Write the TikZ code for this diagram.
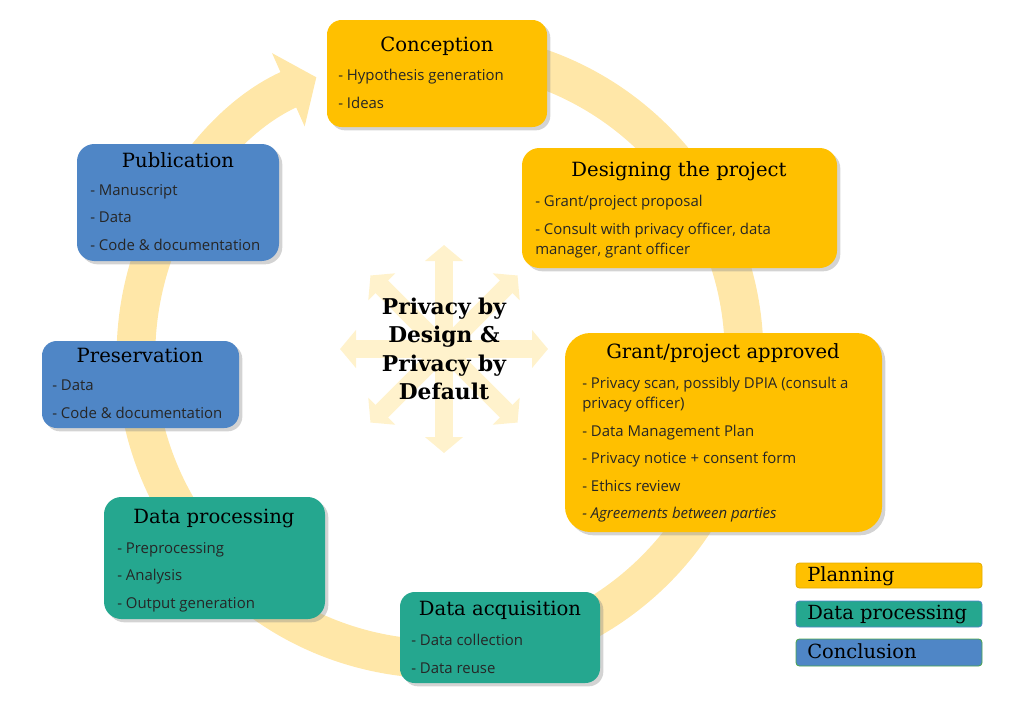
\documentclass[tikz,border=0pt]{standalone}
\usepackage{fontspec}
\setmainfont{Open Sans}
\newfontfamily\headfont{DejaVu Serif}
\usetikzlibrary{arrows.meta,shadows,fit,positioning}

\definecolor{planning}{HTML}{FFC000}
\definecolor{processing}{HTML}{25A78F}
\definecolor{conclusion}{HTML}{4F86C6}
\definecolor{ringcol}{HTML}{FFE7A8}
\definecolor{raycol}{HTML}{FFF2CC}

\tikzset{
  stage/.style={inner sep=0pt, drop shadow={shadow xshift=2.5pt, shadow yshift=-2.5pt, opacity=0.35}},
  stagetitle/.style={anchor=base, inner sep=0pt, font=\headfont\fontsize{14.7}{17}\selectfont},
  items/.style={anchor=north west, inner sep=0pt, align=left, text=black!85, font=\fontsize{11.2}{15}\selectfont, execute at begin node=\strut},
  cyclearrow/.style={line width=29pt, draw=ringcol, -{Triangle[length=23pt, width=59pt]}},
  ray/.style={line width=13.5pt, draw=raycol, {Triangle[length=12pt, width=28pt]}-{Triangle[length=12pt, width=28pt]}},
  keybox/.style={inner sep=0pt, rounded corners=2.5pt, line width=0.6pt},
  keylabel/.style={anchor=base west, inner sep=0pt, font=\headfont\fontsize{14.6}{17}\selectfont}
}

\begin{document}
\begin{tikzpicture}[x=0.75pt, y=-0.75pt]
  \useasboundingbox (0,0) rectangle (1013,708);

  % the cycle
  \draw[cyclearrow] (440,355) ++(-80:304) arc[start angle=-80, end angle=246, radius=304];

  % centre rays and motto
  \coordinate (hub) at (444,349);
  \foreach \a in {0,45,90,135}
    \draw[ray] (hub) ++(\a:104) -- ++(\a+180:208);
  \node[align=center, inner sep=0pt, font=\headfont\bfseries\fontsize{16.3}{21.4}\selectfont] (motto) at (hub)
    {Privacy by\\Design \&\\Privacy by\\Default};

  % planning stages
  \node[stage, fill=planning, rounded corners=11pt, fit={(327,20) (547,127)}] (conception) {};
  \node[stagetitle] (conceptiontitle) at (437,51) {Conception};
  \node[items] (conceptionitems) at (338,69) {- Hypothesis generation\\[5.6pt]- Ideas};

  \node[stage, fill=planning, rounded corners=13pt, fit={(522,148) (837,268)}] (design) {};
  \node[stagetitle] (designtitle) at (679,176) {Designing the project};
  \node[items] (designitems) at (535,195) {- Grant/project proposal\\[5.6pt]- Consult with privacy officer, data\\manager, grant officer};

  \node[stage, fill=planning, rounded corners=19pt, fit={(565,333) (882,532)}] (approved) {};
  \node[stagetitle] (approvedtitle) at (723,358) {Grant/project approved};
  \node[items] (approveditems) at (582,377) {- Privacy scan, possibly DPIA (consult a\\privacy officer)\\[5.6pt]- Data Management Plan\\[5.6pt]- Privacy notice + consent form\\[5.6pt]- Ethics review\\[5.6pt]\textit{- Agreements between parties}};

  % data processing stages
  \node[stage, fill=processing, rounded corners=11pt, fit={(400,592) (600,683)}] (acquisition) {};
  \node[stagetitle] (acquisitiontitle) at (500,615) {Data acquisition};
  \node[items] (acquisitionitems) at (411,634) {- Data collection\\[5.6pt]- Data reuse};

  \node[stage, fill=processing, rounded corners=13pt, fit={(104,497) (325,619)}] (processing) {};
  \node[stagetitle] (processingtitle) at (214,523) {Data processing};
  \node[items] (processingitems) at (117,542) {- Preprocessing\\[5.6pt]- Analysis\\[5.6pt]- Output generation};

  % conclusion stages
  \node[stage, fill=conclusion, rounded corners=11pt, fit={(42,341) (239,428)}] (preservation) {};
  \node[stagetitle] (preservationtitle) at (140,362) {Preservation};
  \node[items] (preservationitems) at (52,380) {- Data\\[5.6pt]- Code \& documentation};

  \node[stage, fill=conclusion, rounded corners=13pt, fit={(77,144) (279,261)}] (publication) {};
  \node[stagetitle] (publicationtitle) at (178,167) {Publication};
  \node[items] (publicationitems) at (90,184) {- Manuscript\\[5.6pt]- Data\\[5.6pt]- Code \& documentation};

  % legend
  \node[keybox, fill=planning, draw=planning!90!black, fit={(796,563) (982,588)}] (keyplanning) {};
  \node[keylabel] (keyplanninglabel) at (807,581) {Planning};
  \node[keybox, fill=processing, draw=conclusion, fit={(796,601) (982,627)}] (keyprocessing) {};
  \node[keylabel] (keyprocessinglabel) at (807,619) {Data processing};
  \node[keybox, fill=conclusion, draw=green!50!black!70, fit={(796,639) (982,666)}] (keyconclusion) {};
  \node[keylabel] (keyconclusionlabel) at (807,658) {Conclusion};
\end{tikzpicture}
\end{document}
